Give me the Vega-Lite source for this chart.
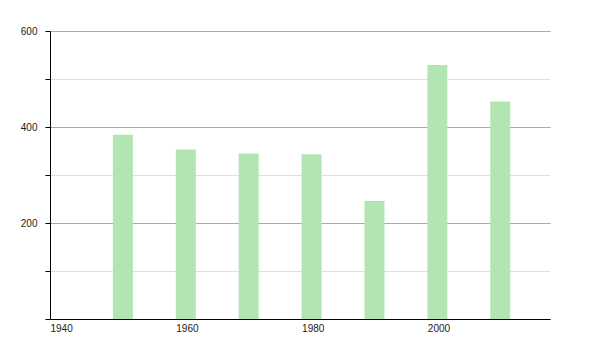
{
  "$schema": "https://vega.github.io/schema/vega-lite/v6.json",
  "width": 500,
  "height": 288,
  "autosize": {"type": "none"},
  "padding": {"left": 50, "top": 31, "right": 50, "bottom": 31},
  "background": "white",
  "config": {"view": {"stroke": null}, "font": "Liberation Sans"},
  "data": {
    "values": [
      {"year": 1950, "value": 384},
      {"year": 1960, "value": 353},
      {"year": 1970, "value": 345},
      {"year": 1980, "value": 343},
      {"year": 1990, "value": 246},
      {"year": 2000, "value": 529},
      {"year": 2010, "value": 453}
    ]
  },
  "mark": {"type": "bar", "width": 20, "xOffset": 10, "color": "#b3e5b3", "opacity": 1},
  "encoding": {
    "x": {
      "field": "year",
      "type": "quantitative",
      "scale": {"domain": [1940, 2019.5], "nice": false, "zero": false, "padding": 0},
      "axis": {
        "title": null,
        "values": [1940, 1960, 1980, 2000],
        "format": "d",
        "labelAlign": "left",
        "labelFlush": false,
        "ticks": false,
        "grid": false,
        "domainColor": "#000",
        "labelFontSize": 10,
        "labelColor": "#222",
        "labelPadding": 4
      }
    },
    "y": {
      "field": "value",
      "type": "quantitative",
      "scale": {"domain": [0, 600], "nice": false},
      "axis": {
        "title": null,
        "values": [0, 100, 200, 300, 400, 500, 600],
        "labelExpr": "datum.value % 200 === 0 && datum.value > 0 ? datum.label : ''",
        "gridColor": {"condition": {"test": "datum.value % 200 === 0", "value": "#aaaaaa"}, "value": "#e0e0e0"},
        "tickColor": "#000",
        "tickSize": 5,
        "domainColor": "#000",
        "labelFontSize": 10,
        "labelColor": "#222",
        "labelPadding": 8
      }
    }
  }
}
